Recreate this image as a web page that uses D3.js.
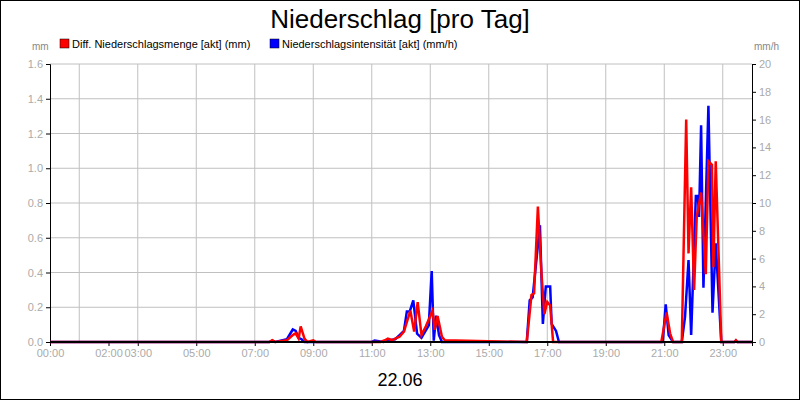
<!DOCTYPE html><html><head><meta charset="utf-8"><script src="https://cdn.jsdelivr.net/npm/d3@7"></script>
<style>body{margin:0}svg{font-family:Arial,"Liberation Sans",sans-serif}</style></head><body>
<script>
const hourTicks=[0,2,3,5,7,9,11,13,15,17,19,21,23];
const gridHours=[1,3,5,7,9,11,13,15,17,19,21,23];
const leftTicks=[0,0.2,0.4,0.6,0.8,1.0,1.2,1.4,1.6];
const rightTicks=[0,2,4,6,8,10,12,14,16,18,20];
const redT=[0,7.5,7.6,7.7,8.1,8.3,8.4,8.5,8.57,8.7,8.8,9.0,9.1,11.3,11.45,11.55,11.7,11.8,11.95,12.1,12.32,12.45,12.57,12.7,12.85,13.08,13.15,13.25,13.4,13.5,16.3,16.46,16.55,16.68,16.8,16.9,17.0,17.1,17.2,17.3,20.9,21.08,21.2,21.3,21.6,21.75,21.83,21.92,22.02,22.11,22.26,22.42,22.51,22.63,22.68,22.76,22.95,23.4,23.45,23.5,24];
const redV=[0,0,0.01,0,0.01,0.04,0.05,0.02,0.09,0.02,0,0.01,0,0,0.01,0.02,0.01,0.02,0.03,0.06,0.18,0.06,0.23,0.04,0.09,0.18,0.07,0.15,0.03,0.01,0,0.27,0.28,0.78,0.4,0.16,0.23,0.21,0,0,0,0.17,0.05,0,0,1.28,0.51,0.89,0.3,0.72,0.86,0.39,1.04,1.02,0.43,1.04,0,0,0.01,0,0];
const blueT=[0,7.5,7.6,7.7,8.1,8.3,8.4,8.5,8.6,8.7,11.0,11.1,11.4,11.5,11.8,11.95,12.1,12.2,12.3,12.42,12.55,12.7,12.95,13.05,13.12,13.2,13.3,13.4,16.3,16.4,16.5,16.75,16.85,16.95,17.1,17.15,17.3,17.4,20.95,21.05,21.15,21.3,21.6,21.71,21.83,21.92,22.08,22.15,22.19,22.26,22.34,22.51,22.65,22.76,22.95,23.4,23.45,23.5,24];
const blueV=[0,0,0.1,0,0.2,0.9,0.8,0.3,0.2,0,0,0.1,0,0.1,0.2,0.5,0.8,2.2,2.2,3.0,0.6,0.3,1.2,5.1,0.1,1.9,0.5,0,0,3.0,3.2,8.4,1.3,4.0,4.0,1.3,0.8,0,0,2.7,0.5,0,0,1.8,5.9,0.5,10.5,10.5,9.0,15.6,3.9,17.0,2.1,7.1,0,0,0.1,0,0];
const W=800,H=400,m={l:50,r:752,t:64,b:342};
const svg=d3.select("body").append("svg").attr("width",W).attr("height",H);
svg.append("rect").attr("x",0.5).attr("y",0.5).attr("width",W-1).attr("height",H-1).attr("fill","#fff").attr("stroke","#000");
const x=d3.scaleLinear().domain([0,24]).range([m.l,m.r]);
const yL=d3.scaleLinear().domain([0,1.6]).range([m.b,m.t]);
const yR=d3.scaleLinear().domain([0,20]).range([m.b,m.t]);
const g=svg.append("g");
g.selectAll(".gv").data(gridHours).join("line").attr("x1",d=>x(d)).attr("x2",d=>x(d)).attr("y1",m.t).attr("y2",m.b).attr("stroke","#c0c0c0");
g.selectAll(".gh").data(leftTicks).join("line").attr("x1",m.l).attr("x2",m.r).attr("y1",d=>yL(d)).attr("y2",d=>yL(d)).attr("stroke","#c0c0c0");
const la=svg.append("g").attr("transform",`translate(${m.l},0)`).call(d3.axisLeft(yL).tickValues(leftTicks).tickFormat(d3.format(".1f")).tickSize(4));
const ra=svg.append("g").attr("transform",`translate(${m.r},0)`).call(d3.axisRight(yR).tickValues(rightTicks).tickSize(4));
const ba=svg.append("g").attr("transform",`translate(0,${m.b})`).call(d3.axisBottom(x).tickValues(hourTicks).tickFormat(d=>String(d).padStart(2,"0")+":00").tickSize(4));
[la,ra,ba].forEach(a=>{a.selectAll("text").attr("fill","#aaa").style("font-size","11px");a.select(".domain").attr("stroke","#000");a.selectAll(".tick line").attr("stroke","#000");});
const lineB=d3.line().x((d,i)=>x(blueT[i])).y(d=>yR(d));
const lineR=d3.line().x((d,i)=>x(redT[i])).y(d=>yL(d));
svg.append("path").attr("d",lineB(blueV)).attr("fill","none").attr("stroke","#0000ff").attr("stroke-width",2.5);
svg.append("path").attr("d",lineR(redV)).attr("fill","none").attr("stroke","#ff0000").attr("stroke-width",2.5);
svg.append("line").attr("x1",m.l).attr("x2",m.r).attr("y1",m.b).attr("y2",m.b).attr("stroke","#000").attr("stroke-width",2);
svg.append("text").attr("x",400).attr("y",28).attr("text-anchor","middle").style("font-size","26px").text("Niederschlag [pro Tag]");
svg.append("text").attr("x",32).attr("y",50).style("font-size","10px").attr("fill","#888").text("mm");
svg.append("text").attr("x",754).attr("y",50).style("font-size","10px").attr("fill","#888").text("mm/h");
const leg=[["#ff0000","Diff. Niederschlagsmenge [akt] (mm)",60],["#0000ff","Niederschlagsintensität [akt] (mm/h)",270]];
leg.forEach(([c,t,lx])=>{svg.append("rect").attr("x",lx).attr("y",39).attr("width",9).attr("height",9).attr("fill",c).attr("stroke","#000").attr("stroke-width",0.5);
svg.append("text").attr("x",lx+12).attr("y",48).style("font-size","11px").text(t);});
svg.append("text").attr("x",400).attr("y",386).attr("text-anchor","middle").style("font-size","18px").text("22.06");
</script></body></html>
